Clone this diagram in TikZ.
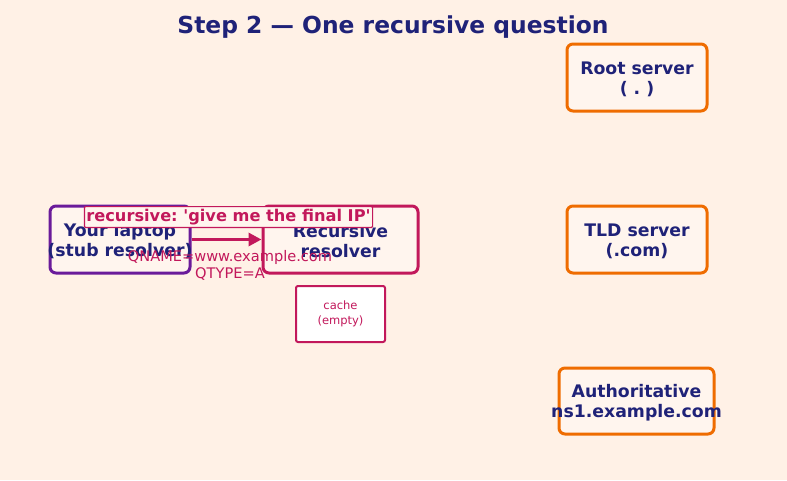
\documentclass[tikz,border=0pt]{standalone}
\usepackage{fontspec}
\setmainfont{DejaVu Sans}[Ligatures=TeXOff]
\usetikzlibrary{arrows.meta}
\definecolor{bg}{HTML}{FFF1E6}
\definecolor{navy}{HTML}{1F2278}
\definecolor{orng}{HTML}{EF6C00}
\definecolor{crim}{HTML}{C2185B}
\definecolor{purp}{HTML}{6A1B9A}
\definecolor{boxfill}{HTML}{FFF5EE}
\frenchspacing
\tikzset{
  srv/.style={draw=#1, line width=3pt, rounded corners=6pt, fill=boxfill, inner sep=0pt},
  srvtext/.style={text=navy, font=\bfseries\fontsize{17.3}{20.3}\selectfont, align=center, inner sep=0pt, yshift=-1.5pt},
  lbl/.style={draw=crim, line width=1.2pt, fill=boxfill, text=crim, rounded corners=1pt,
    font=\bfseries\fontsize{16.2}{19}\selectfont, inner xsep=2pt, inner ysep=2.5pt},
}
\begin{document}
\begin{tikzpicture}[x=1pt,y=-1pt]
\fill[bg] (0,0) rectangle (787,480);
\useasboundingbox (0,0) rectangle (787,480);
\node[text=navy, font=\bfseries\fontsize{23.4}{28}\selectfont] (title) at (393,27) {Step 2 — One recursive question};
\node[srv=purp, minimum width=140pt, minimum height=67pt] (laptop) at (120,239.5) {};
\node[srvtext] (laptopt) at (laptop.center) {Your laptop\\(stub resolver)};
\node[srv=crim, minimum width=155pt, minimum height=67pt] (rec) at (340.5,239.5) {};
\node[srvtext] (rect) at (rec.center) {Recursive\\resolver};
\node[srv=orng, minimum width=140pt, minimum height=67pt] (root) at (637,77.5) {};
\node[srvtext] (roott) at (root.center) {Root server\\( . )};
\node[srv=orng, minimum width=140pt, minimum height=67pt] (tld) at (637,239.5) {};
\node[srvtext] (tldt) at (tld.center) {TLD server\\(.com)};
\node[srv=orng, minimum width=155pt, minimum height=66pt] (auth) at (636.5,401) {};
\node[srvtext] (autht) at (auth.center) {Authoritative\\ns1.example.com};
\node[draw=crim, line width=2pt, rounded corners=2pt, fill=white, text=crim, align=center,
  font=\fontsize{11.5}{14.5}\selectfont, minimum width=89pt, minimum height=56pt] (cache) at (340.5,314) {cache\\(empty)};
\draw[crim, line width=3.5pt, -{Triangle[length=13pt,width=13pt]}] (laptop.east) -- (rec.west);
\node[lbl] (q) at (228.5,217) {recursive: 'give me the final IP'};
\node[text=crim, align=center, font=\fontsize{14.6}{17}\selectfont] (qn) at (230,265.5) {QNAME=www.example.com\\QTYPE=A};
\end{tikzpicture}
\end{document}
